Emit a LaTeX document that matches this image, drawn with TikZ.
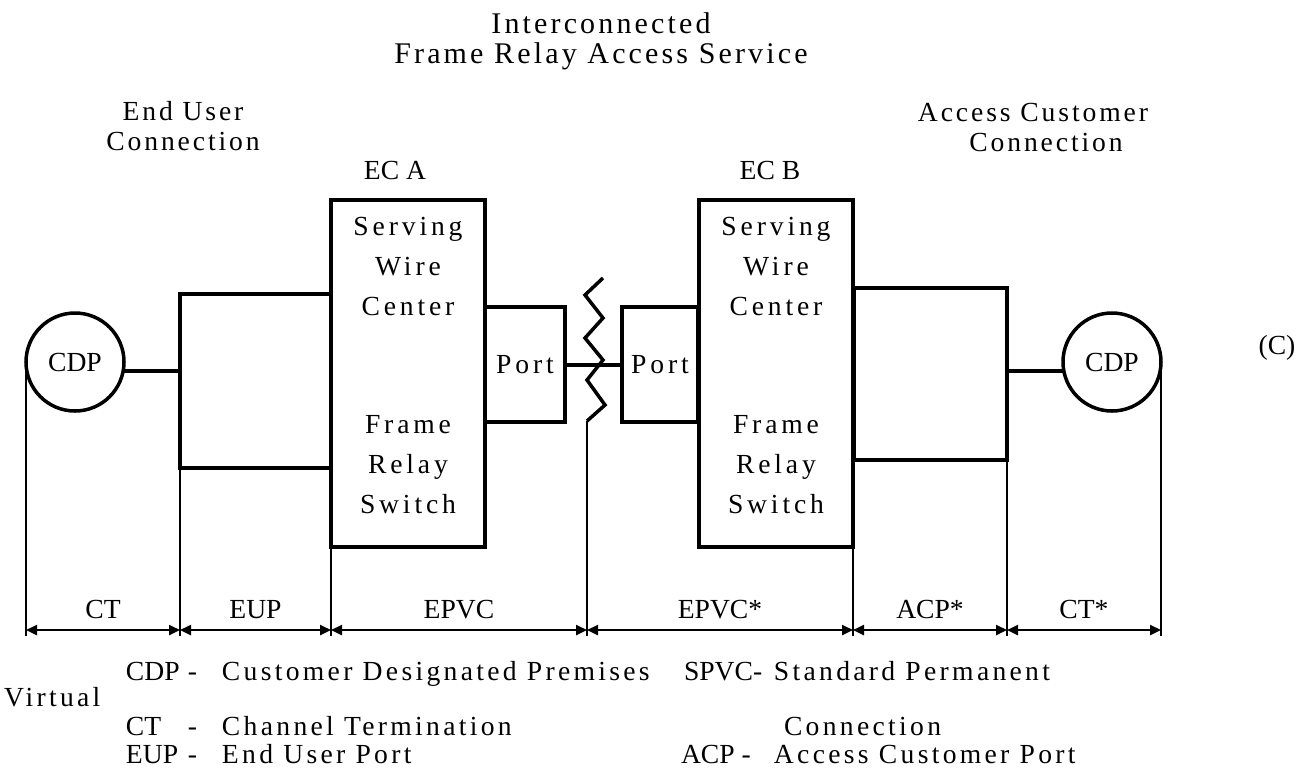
\documentclass[tikz,border=0pt]{standalone}
\usepackage{fontspec}
\setmainfont{Liberation Serif}
\newfontfamily\boxfont[LetterSpace=14]{Liberation Serif}
\newfontfamily\headfont[LetterSpace=10.5]{Liberation Serif}
\newfontfamily\legfont[LetterSpace=12]{Liberation Serif}
\newcommand{\legkey}[2]{\makebox[#1][l]{\rmfamily #2}}
\usetikzlibrary{arrows.meta, positioning, calc}

\begin{document}
\begin{tikzpicture}[
    x=0.5pt, y=-0.5pt,
    every node/.style={inner sep=0pt, outer sep=0pt, font=\fontsize{13.8}{16}\selectfont},
    ecbox/.style={rectangle, draw, line width=2pt, minimum width=77pt, minimum height=173.5pt},
    sidebox/.style={rectangle, draw, line width=2pt, minimum width=76pt, minimum height=86pt},
    portbox/.style={rectangle, draw, line width=2pt, minimum height=57.5pt, font=\boxfont\fontsize{13.8}{16}\selectfont},
    cdp/.style={circle, draw, line width=1.75pt, minimum size=49pt},
    inbox/.style={align=center, font=\boxfont\fontsize{13.8}{20}\selectfont},
    heading/.style={align=center, font=\headfont\fontsize{13.8}{15}\selectfont},
    legend/.style={anchor=base west, font=\legfont\fontsize{13.8}{16}\selectfont},
    link/.style={line width=2pt},
    tick/.style={line width=0.75pt},
    dim/.style={{Triangle[length=5.5pt,width=5pt]}-{Triangle[length=5.5pt,width=5pt]}, line width=1.2pt},
    dimlabel/.style={above=5.5pt}
]
\useasboundingbox (0,0) rectangle (1298,768);

% Headings
\node (title) [heading, font=\headfont\fontsize{15}{15}\selectfont] at (601,41) {Interconnected\\Frame Relay Access Service};
\node (endUser) [heading] at (183,126.5) {End User\\Connection};
\node (accCust) [heading] at (1033,112) {Access Customer};
\node (accConn) [heading] at (1046,142) {Connection};

% Exchange carriers
\node (ecA) [ecbox] at (408,373.5) {};
\node (ecB) [ecbox] at (776,373.5) {};
\node (ecAlbl) at (395,170) {EC A};
\node (ecBlbl) at (770,170) {EC B};
\node (ecAup) [inbox, below=8.5pt of ecA.north] {Serving\\Wire\\Center};
\node (ecAdn) [inbox, above=16.5pt of ecA.south] {Frame\\Relay\\Switch};
\node (ecBup) [inbox, below=8.5pt of ecB.north] {Serving\\Wire\\Center};
\node (ecBdn) [inbox, above=16.5pt of ecB.south] {Frame\\Relay\\Switch};

% Side boxes, ports, premises
\node (boxL) [sidebox, minimum width=75.5pt, minimum height=87pt] at (255.5,381) {};
\node (boxR) [sidebox, minimum width=76.5pt] at (930.5,374) {};
\node (portA) [portbox, minimum width=40pt] at (525,364.5) {Port};
\node (portB) [portbox, minimum width=38pt] at (660,364.5) {Port};
\node (cdpL) [cdp] at (75,362) {CDP};
\node (cdpR) [cdp] at (1112,362) {CDP};
\node (copyMark) at (1277,348) {(C)};

% Links
\draw [link] (cdpL.-10) -- (cdpL.-10 -| boxL.west);
\draw [link] (cdpR.190) -- (cdpR.190 -| boxR.east);
\draw [link] (portA) -- (portB);

% Break between carriers
\coordinate (brkTop) at (603,278);
\coordinate (brkEnd) at (587,421);
\draw [link, line width=1.75pt] (brkTop) -- (585,295) -- (603,318) -- (585,338) -- (603,360) -- (587,380) -- (605,405) -- (brkEnd);

% Ticks
\coordinate (tickBase) at (0,636);
\coordinate (dimRow) at (0,630);
\foreach \p in {cdpL.west, boxL.south west, ecA.south west, brkEnd, ecB.south east, boxR.south east, cdpR.east}
    \draw [tick] (\p) -- (\p |- tickBase);

% Dimensions
\draw [dim] (cdpL.west |- dimRow) -- (boxL.south west |- dimRow) node[midway, dimlabel] (dCT) {CT};
\draw [dim] (boxL.south west |- dimRow) -- (ecA.south west |- dimRow) node[midway, dimlabel] (dEUP) {EUP};
\draw [dim] (ecA.south west |- dimRow) -- (brkEnd |- dimRow) node[midway, dimlabel] (dEPVC) {EPVC};
\draw [dim] (brkEnd |- dimRow) -- (ecB.south east |- dimRow) node[midway, dimlabel] (dEPVCs) {EPVC*};
\draw [dim] (ecB.south east |- dimRow) -- (boxR.south east |- dimRow) node[midway, dimlabel] (dACPs) {ACP*};
\draw [dim] (boxR.south east |- dimRow) -- (cdpR.east |- dimRow) node[midway, dimlabel] (dCTs) {CT*};

% Legend
\node (legCDP) [legend] at (126,680) {\legkey{31pt}{CDP}\legkey{17pt}{-}Customer Designated Premises};
\node (legSPVC) [legend] at (684,680) {\legkey{45pt}{SPVC-}Standard Permanent};
\node (legVirt) [legend] at (4,706) {Virtual};
\node (legCT) [legend] at (126,735) {\legkey{31pt}{CT}\legkey{17pt}{-}Channel Termination};
\node (legConn) [legend] at (784,735) {Connection};
\node (legEUP) [legend] at (126,763) {\legkey{31pt}{EUP}\legkey{17pt}{-}End User Port};
\node (legACP) [legend] at (681,763) {\legkey{46.5pt}{ACP -}Access Customer Port};

\end{tikzpicture}
\end{document}
